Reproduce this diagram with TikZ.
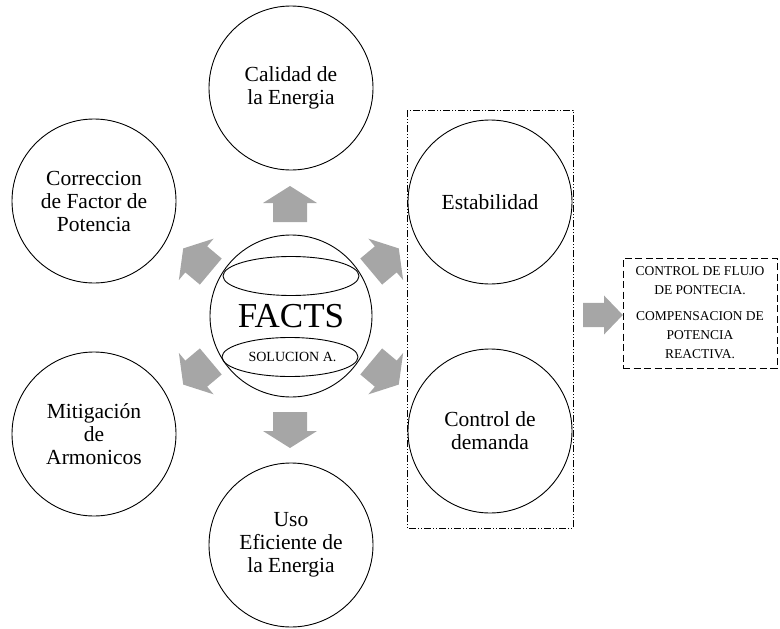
\documentclass[tikz,border=0pt]{standalone}
\usepackage{fontspec}
\setmainfont{Liberation Serif}
\usetikzlibrary{shapes.geometric,positioning}
\definecolor{arrowgray}{RGB}{166,166,166}
\tikzset{main node/.style={circle,draw,fill=white,line width=0.9pt,minimum size=164pt,inner sep=0pt,align=center,font=\fontsize{21.5}{23}\selectfont},
         hub node/.style={circle,draw,line width=0.9pt,minimum size=162pt,inner sep=0pt},
         lens/.style={ellipse,draw,line width=0.9pt,minimum width=136pt,minimum height=39pt,inner sep=0pt,font=\fontsize{14}{15}\selectfont},
         note box/.style={rectangle,draw,line width=0.9pt,dash pattern=on 7pt off 3.5pt,minimum width=154pt,minimum height=110pt,inner sep=0pt,align=center,font=\fontsize{13.5}{19}\selectfont},
         block arrow/.pic={\fill[arrowgray] (-18,-17) -- (1,-17) -- (1,-27) -- (18,0) -- (1,27) -- (1,17) -- (-18,17) -- cycle;}
}

\begin{document}
\begin{tikzpicture}[x=1pt,y=1pt]
\useasboundingbox (0,0) rectangle (780,-629);

% gray arrows
\pic[rotate=90] at (290,-204) {block arrow};
\pic[rotate=-90] at (290,-430) {block arrow};
\pic[rotate=40] at (385,-260) {block arrow};
\pic[rotate=-40] at (385,-373) {block arrow};
\pic[rotate=140] at (197,-260) {block arrow};
\pic[rotate=-140] at (197,-373) {block arrow};
\pic[xscale=1.1,yscale=0.72] at (603,-315) {block arrow};

% centre
\node [hub node] (0) at (291,-316) {};
\node [lens] (top) at (291,-276) {};
\node [lens] (sol) at (290,-357) {\hspace*{5pt}SOLUCION A.};
\node [font=\fontsize{35}{38}\selectfont] (facts) at (291,-316) {FACTS};

% outer circles
\node [main node] (1) at (291,-88) {Calidad de\\la Energia};
\node [main node] (2) at (94,-201) {Correccion\\de Factor de\\Potencia};
\node [main node] (3) at (94,-434) {Mitigación\\de\\Armonicos};
\node [main node] (4) at (291,-545) {Uso\\Eficiente de\\la Energia};
\node [main node] (5) at (490,-202) {Estabilidad};
\node [main node] (6) at (490,-431) {Control de\\demanda};

\draw[line width=0.8pt,dash pattern=on 7pt off 2pt on 1pt off 2pt on 1pt off 2pt] (407,-110) rectangle (573,-528);

\node [note box] (7) at (700,-313) {CONTROL DE FLUJO\\DE PONTECIA.\\[7pt]COMPENSACION DE\\POTENCIA\\REACTIVA.};
\end{tikzpicture}
\end{document}
